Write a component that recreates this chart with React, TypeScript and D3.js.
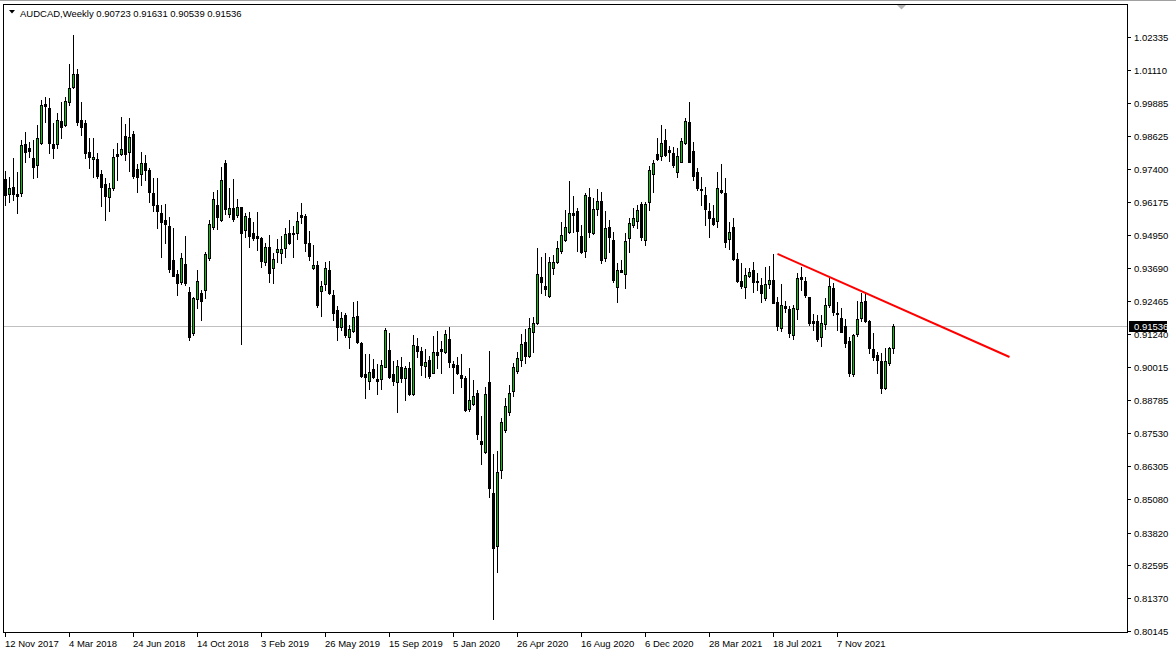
import React from "react";
import * as d3 from "d3";

const symbolTitle = "AUDCAD,Weekly";
const headerValues = ["0.90723", "0.91631", "0.90539", "0.91536"];

const opens = [
  0.9703, 0.9647, 0.9673, 0.9647, 0.9651, 0.9834, 0.9819, 0.9781, 0.9755, 0.9838,
  0.9983, 0.9968, 0.9834, 0.9834, 0.992, 0.9905, 0.9991, 1.0047, 1.0095, 0.9923,
  0.9912, 0.9804, 0.9778, 0.9778, 0.9722, 0.9684, 0.9636, 0.9669, 0.9796, 0.9796,
  0.9864, 0.9804, 0.9871, 0.974, 0.9722, 0.9763, 0.9737, 0.9651, 0.9606, 0.9576,
  0.955, 0.9527, 0.94, 0.9348, 0.9318, 0.9385, 0.9281, 0.9128, 0.9255, 0.9277,
  0.9288, 0.9408, 0.9524, 0.9606, 0.955, 0.9763, 0.9572, 0.9595, 0.9568, 0.9598,
  0.9512, 0.9557, 0.9501, 0.949, 0.9483, 0.9393, 0.9449, 0.937, 0.943, 0.9427,
  0.9445, 0.9501, 0.9501, 0.9501, 0.9568, 0.9565, 0.9464, 0.937, 0.9382, 0.9285,
  0.9311, 0.9363, 0.927, 0.9214, 0.915, 0.9195, 0.9113, 0.9135, 0.9191, 0.909,
  0.8974, 0.8948, 0.8993, 0.8956, 0.8956, 0.9001, 0.9064, 0.8974, 0.8945, 0.9001,
  0.896, 0.8997, 0.89, 0.9079, 0.906, 0.9004, 0.9027, 0.8978, 0.9057, 0.9068,
  0.9057, 0.9105, 0.9012, 0.9008, 0.8971, 0.8959, 0.8844, 0.8862, 0.8903, 0.8724,
  0.8683, 0.8945, 0.853, 0.8332, 0.8616, 0.8765, 0.8832, 0.8911, 0.8986, 0.9027,
  0.9094, 0.9042, 0.9131, 0.9165, 0.9337, 0.9303, 0.9266, 0.937, 0.9393, 0.9434,
  0.9475, 0.9505, 0.9576, 0.9583, 0.949, 0.9434, 0.9636, 0.9501, 0.9591, 0.9621,
  0.9408, 0.9524, 0.9475, 0.9299, 0.9363, 0.9348, 0.9483, 0.9531, 0.9546, 0.961,
  0.9475, 0.9617, 0.9722, 0.9796, 0.9789, 0.9849, 0.9811, 0.98, 0.9729, 0.9767,
  0.9838, 0.9916, 0.9808, 0.9729, 0.9666, 0.9643, 0.9583, 0.9557, 0.9546, 0.9662,
  0.9651, 0.9479, 0.9524, 0.9404, 0.9322, 0.9299, 0.9341, 0.9363, 0.9322, 0.9307,
  0.9258, 0.9311, 0.9326, 0.9243, 0.9146, 0.9228, 0.9217, 0.912, 0.9217, 0.9337,
  0.9322, 0.9262, 0.9172, 0.9172, 0.9113, 0.9161, 0.9232, 0.9295, 0.9202, 0.9184,
  0.9154, 0.9098, 0.8974, 0.9124, 0.9184, 0.9247, 0.9172, 0.9068, 0.9045, 0.9023,
  0.8922, 0.9016, 0.90723,
];

const highs = [
  0.9733, 0.971, 0.9781, 0.9729, 0.9849, 0.9879, 0.9841, 0.9849, 0.9905, 0.9998,
  1.0009, 1.0006, 0.9912, 0.995, 0.9991, 1.0009, 1.0133, 1.0241, 1.0114, 0.9991,
  0.9923, 0.9856, 0.9856, 0.98, 0.9737, 0.9707, 0.9688, 0.9815, 0.9838, 0.9935,
  0.9908, 0.9931, 0.9882, 0.9759, 0.9804, 0.9793, 0.9744, 0.9707, 0.9707, 0.9606,
  0.961, 0.9561, 0.952, 0.9363, 0.9427, 0.949, 0.93, 0.9262, 0.9363, 0.9288,
  0.943, 0.955, 0.9654, 0.9662, 0.9748, 0.9774, 0.9669, 0.9703, 0.9628, 0.96,
  0.9576, 0.958, 0.9542, 0.958, 0.9486, 0.9464, 0.9494, 0.9427, 0.9479, 0.949,
  0.952, 0.955, 0.9527, 0.958, 0.9613, 0.9572, 0.9509, 0.9456, 0.9397, 0.9322,
  0.9393, 0.9397, 0.9288, 0.9228, 0.9206, 0.9202, 0.9157, 0.9243, 0.9247, 0.9094,
  0.9049, 0.9049, 0.903, 0.9012, 0.9027, 0.9146, 0.9128, 0.9023, 0.9027, 0.9038,
  0.9004, 0.9019, 0.912, 0.9109, 0.9075, 0.9068, 0.9042, 0.9116, 0.9135, 0.9098,
  0.9139, 0.915, 0.9023, 0.9038, 0.9049, 0.8967, 0.8997, 0.8952, 0.8915, 0.8818,
  0.8926, 0.906, 0.8676, 0.8687, 0.881, 0.8885, 0.8933, 0.9016, 0.9057, 0.9124,
  0.9143, 0.9184, 0.9187, 0.9445, 0.9412, 0.9427, 0.9412, 0.9419, 0.9471, 0.9542,
  0.9587, 0.9696, 0.9639, 0.9595, 0.9531, 0.9651, 0.9669, 0.9632, 0.9666, 0.9654,
  0.9583, 0.955, 0.9505, 0.9389, 0.94, 0.9501, 0.9557, 0.9595, 0.9606, 0.9617,
  0.9617, 0.9752, 0.9774, 0.9856, 0.9905, 0.989, 0.9826, 0.9822, 0.9819, 0.9856,
  0.9931, 0.9991, 0.9841, 0.9744, 0.971, 0.9673, 0.9613, 0.9606, 0.9729, 0.9759,
  0.9707, 0.9542, 0.9557, 0.9427, 0.9389, 0.937, 0.937, 0.9393, 0.9352, 0.9333,
  0.9374, 0.9378, 0.9423, 0.9262, 0.9311, 0.9247, 0.9228, 0.9232, 0.9352, 0.9374,
  0.9337, 0.9262, 0.9199, 0.9195, 0.9195, 0.9258, 0.9333, 0.9314, 0.9243, 0.9221,
  0.918, 0.9113, 0.9124, 0.9247, 0.9277, 0.9281, 0.9176, 0.9128, 0.9057, 0.9053,
  0.9072, 0.9075, 0.91631,
];

const lows = [
  0.9606, 0.9617, 0.9625, 0.9576, 0.9639, 0.9767, 0.9785, 0.9707, 0.971, 0.9834,
  0.9916, 0.98, 0.9781, 0.9819, 0.9856, 0.9901, 0.9979, 1.0043, 0.9905, 0.9867,
  0.9781, 0.9744, 0.971, 0.9707, 0.9602, 0.955, 0.9583, 0.9662, 0.9699, 0.9793,
  0.9774, 0.9733, 0.9707, 0.9654, 0.9681, 0.9699, 0.9617, 0.9583, 0.952, 0.9412,
  0.9464, 0.9356, 0.9339, 0.927, 0.9311, 0.9307, 0.9102, 0.912, 0.9221, 0.9176,
  0.9258, 0.94, 0.9516, 0.9516, 0.9546, 0.9572, 0.9561, 0.9546, 0.9561, 0.9087,
  0.9486, 0.9449, 0.9475, 0.9438, 0.9374, 0.9382, 0.9318, 0.9314, 0.9393, 0.9389,
  0.9412, 0.946, 0.9412, 0.9479, 0.9539, 0.9434, 0.94, 0.9367, 0.9225, 0.9191,
  0.9288, 0.9273, 0.9176, 0.9102, 0.9139, 0.9113, 0.9072, 0.9131, 0.909, 0.8963,
  0.8885, 0.8918, 0.8959, 0.89, 0.8918, 0.9, 0.8959, 0.8933, 0.8833, 0.8945,
  0.8877, 0.8896, 0.8896, 0.9038, 0.8971, 0.8963, 0.8959, 0.8978, 0.8997, 0.8978,
  0.9053, 0.9001, 0.8903, 0.8974, 0.8926, 0.8836, 0.8836, 0.8859, 0.8732, 0.8638,
  0.8679, 0.8515, 0.8059, 0.8235, 0.8586, 0.8758, 0.8821, 0.8892, 0.8978, 0.9004,
  0.9016, 0.9038, 0.9057, 0.9161, 0.9277, 0.927, 0.9262, 0.9348, 0.9389, 0.9427,
  0.9471, 0.9501, 0.9505, 0.9434, 0.9427, 0.9412, 0.9486, 0.9498, 0.9568, 0.9389,
  0.9397, 0.943, 0.9318, 0.9243, 0.9355, 0.9296, 0.943, 0.9524, 0.952, 0.9475,
  0.9456, 0.9587, 0.9654, 0.9774, 0.9774, 0.9789, 0.977, 0.9748, 0.971, 0.9767,
  0.9834, 0.9766, 0.9699, 0.9662, 0.9606, 0.9531, 0.9486, 0.9531, 0.9524, 0.9652,
  0.9449, 0.9441, 0.94, 0.9318, 0.9296, 0.9258, 0.9337, 0.9281, 0.9288, 0.9243,
  0.9251, 0.9296, 0.9238, 0.9139, 0.9135, 0.9206, 0.9113, 0.9105, 0.918, 0.9288,
  0.9262, 0.9158, 0.9139, 0.9098, 0.9079, 0.9143, 0.9225, 0.9195, 0.9139, 0.9131,
  0.9075, 0.8967, 0.8967, 0.9116, 0.9172, 0.9169, 0.9053, 0.9027, 0.8978, 0.8903,
  0.8918, 0.9008, 0.90539,
];

const closes = [
  0.9643, 0.9669, 0.9647, 0.9639, 0.983, 0.9804, 0.9808, 0.9748, 0.9856, 0.9979,
  0.9976, 0.9838, 0.9819, 0.9923, 0.9897, 0.9994, 1.0043, 1.0095, 0.9916, 0.9897,
  0.98, 0.9785, 0.9785, 0.9714, 0.9673, 0.9639, 0.9669, 0.9785, 0.9789, 0.9815,
  0.9796, 0.986, 0.9714, 0.971, 0.9763, 0.9737, 0.9654, 0.9606, 0.9583, 0.9542,
  0.9535, 0.9367, 0.9341, 0.9314, 0.9408, 0.9314, 0.9113, 0.9258, 0.9322, 0.9247,
  0.9423, 0.9535, 0.9628, 0.9561, 0.9699, 0.9591, 0.9595, 0.9554, 0.9598, 0.9501,
  0.9565, 0.949, 0.9483, 0.9483, 0.9397, 0.9449, 0.9352, 0.9404, 0.9441, 0.9441,
  0.9498, 0.9464, 0.9497, 0.9546, 0.9561, 0.9464, 0.9415, 0.9382, 0.9232, 0.9303,
  0.937, 0.9277, 0.9202, 0.915, 0.9184, 0.912, 0.9143, 0.9187, 0.9094, 0.8967,
  0.8963, 0.8982, 0.8963, 0.8948, 0.9008, 0.9139, 0.8963, 0.8948, 0.9004, 0.896,
  0.8997, 0.89, 0.9083, 0.906, 0.9008, 0.9019, 0.8967, 0.9057, 0.9045, 0.906,
  0.9124, 0.9019, 0.9001, 0.8978, 0.8959, 0.884, 0.8877, 0.8892, 0.875, 0.8713,
  0.89, 0.8549, 0.8324, 0.8608, 0.8795, 0.8855, 0.8903, 0.9001, 0.9034, 0.9087,
  0.9042, 0.9146, 0.9165, 0.9348, 0.9318, 0.9292, 0.9393, 0.9393, 0.9445, 0.9494,
  0.9524, 0.9576, 0.9568, 0.9509, 0.943, 0.9643, 0.9505, 0.9591, 0.9621, 0.94,
  0.952, 0.9486, 0.9326, 0.9363, 0.9356, 0.9471, 0.9539, 0.9557, 0.9587, 0.9486,
  0.961, 0.9737, 0.9763, 0.9778, 0.9838, 0.9793, 0.9804, 0.9755, 0.9789, 0.9845,
  0.992, 0.9767, 0.9714, 0.9669, 0.9662, 0.9591, 0.9557, 0.9535, 0.9669, 0.9654,
  0.9468, 0.9505, 0.9404, 0.9322, 0.9303, 0.9344, 0.9356, 0.9318, 0.9318, 0.9277,
  0.9311, 0.9326, 0.924, 0.9154, 0.9232, 0.9221, 0.9128, 0.9221, 0.9333, 0.9329,
  0.927, 0.9165, 0.9165, 0.9105, 0.9165, 0.9232, 0.9303, 0.9206, 0.9199, 0.9131,
  0.909, 0.8978, 0.912, 0.918, 0.9243, 0.9172, 0.9072, 0.9038, 0.9027, 0.8922,
  0.9023, 0.9072, 0.91536,
];

const dateLabels = [
  "12 Nov 2017", "4 Mar 2018", "24 Jun 2018", "14 Oct 2018", "3 Feb 2019",
  "26 May 2019", "15 Sep 2019", "5 Jan 2020", "26 Apr 2020", "16 Aug 2020",
  "6 Dec 2020", "28 Mar 2021", "18 Jul 2021", "7 Nov 2021",
];
const dateLabelBars = [0, 16, 32, 48, 64, 80, 96, 112, 128, 144, 160, 176, 192, 208];

const priceTicks = [
  1.02335, 1.0111, 0.99885, 0.98625, 0.974, 0.96175, 0.9495, 0.9369, 0.92465,
  0.9124, 0.90015, 0.88785, 0.8753, 0.86305, 0.8508, 0.8382, 0.82595, 0.8137, 0.80145,
];

const trendBars = [193, 251];
const trendPrices = [0.9423, 0.9038];
const lastPrice = 0.91536;

const W = 1176;
const H = 657;
const FONT = "'Liberation Sans', Arial, sans-serif";
const BULL = "#00c800";

export default function App() {
  const x = d3.scaleLinear().domain([0, 1]).range([5, 9]);
  const y = d3.scaleLinear().domain([0.80145, 1.02335]).range([631, 37]);
  const left = 3.5;
  const top = 4.5;
  const right = 1127.5;
  const bottom = 632.5;

  const candles = opens.map((o, i) => ({ i, o, h: highs[i], l: lows[i], c: closes[i] }));
  const lastY = Math.round(y(lastPrice));
  const trendLine = d3.line<number>()
    .x((_, k) => x(trendBars[k]) + 0.5)
    .y((p) => y(p));

  return (
    <svg
      width={W}
      height={H}
      style={{ position: "absolute", left: 0, top: 0, background: "#ffffff" }}
      shapeRendering="crispEdges"
    >
      <rect x={0} y={0} width={W} height={H} fill="#ffffff" />
      <line x1={0} x2={W} y1={0.5} y2={0.5} stroke="#a0a0a0" />

      {/* current price line */}
      <line x1={left} x2={right} y1={lastY + 0.5} y2={lastY + 0.5} stroke="#c0c0c0" />

      {/* candles */}
      {candles.map((d) => {
        const P = Math.round(x(d.i));
        const yh = Math.round(y(d.h));
        const yl = Math.round(y(d.l));
        const yo = Math.round(y(d.o));
        const yc = Math.round(y(d.c));
        const bTop = Math.min(yo, yc);
        const bBot = Math.max(yo, yc);
        const bull = d.c > d.o;
        return (
          <g key={d.i}>
            <line x1={P + 0.5} x2={P + 0.5} y1={yh} y2={yl + 1} stroke="#000" />
            {bull && bBot - bTop >= 2 ? (
              <rect x={P - 0.5} y={bTop + 0.5} width={2} height={bBot - bTop} fill={BULL} stroke="#000" />
            ) : (
              <rect x={P - 1} y={bTop} width={3} height={Math.max(1, bBot - bTop + 1)} fill="#000" />
            )}
          </g>
        );
      })}

      {/* trend line */}
      <path d={trendLine(trendPrices) || ""} fill="none" stroke="#ff0000" strokeWidth={2} shapeRendering="auto" />

      {/* chart shift marker */}
      <path d="M897,5 L906,5 L901.5,9.5 Z" fill="#b4b4b4" shapeRendering="auto" />

      {/* frame */}
      <rect x={left} y={top} width={right - left} height={bottom - top} fill="none" stroke="#000" />

      {/* header */}
      <path d="M9,10 L15,10 L12,13.5 Z" fill="#000" shapeRendering="auto" />
      <text x={20} y={16.5} fontFamily={FONT} fontSize={9.5} fill="#000">
        {symbolTitle + "  " + headerValues.join(" ")}
      </text>

      {/* price axis */}
      {priceTicks.map((p) => {
        const ty = Math.round(y(p));
        return (
          <g key={p}>
            <line x1={1128} x2={1131} y1={ty + 0.5} y2={ty + 0.5} stroke="#000" />
            <text x={1134} y={ty + 3.5} fontFamily={FONT} fontSize={9.5} fill="#000">
              {p.toFixed(5)}
            </text>
          </g>
        );
      })}

      {/* last price label */}
      <rect x={1129} y={lastY - 5} width={38} height={11} fill="#000" />
      <text x={1134} y={lastY + 3.5} fontFamily={FONT} fontSize={9.5} fill="#ffffff">
        {lastPrice.toFixed(5)}
      </text>

      {/* time axis */}
      {dateLabelBars.map((b, k) => {
        const P = Math.round(x(b));
        return (
          <g key={b}>
            <line x1={P + 0.5} x2={P + 0.5} y1={633} y2={637} stroke="#000" />
            <text x={P} y={647} fontFamily={FONT} fontSize={9.5} fill="#000">
              {dateLabels[k]}
            </text>
          </g>
        );
      })}
    </svg>
  );
}
